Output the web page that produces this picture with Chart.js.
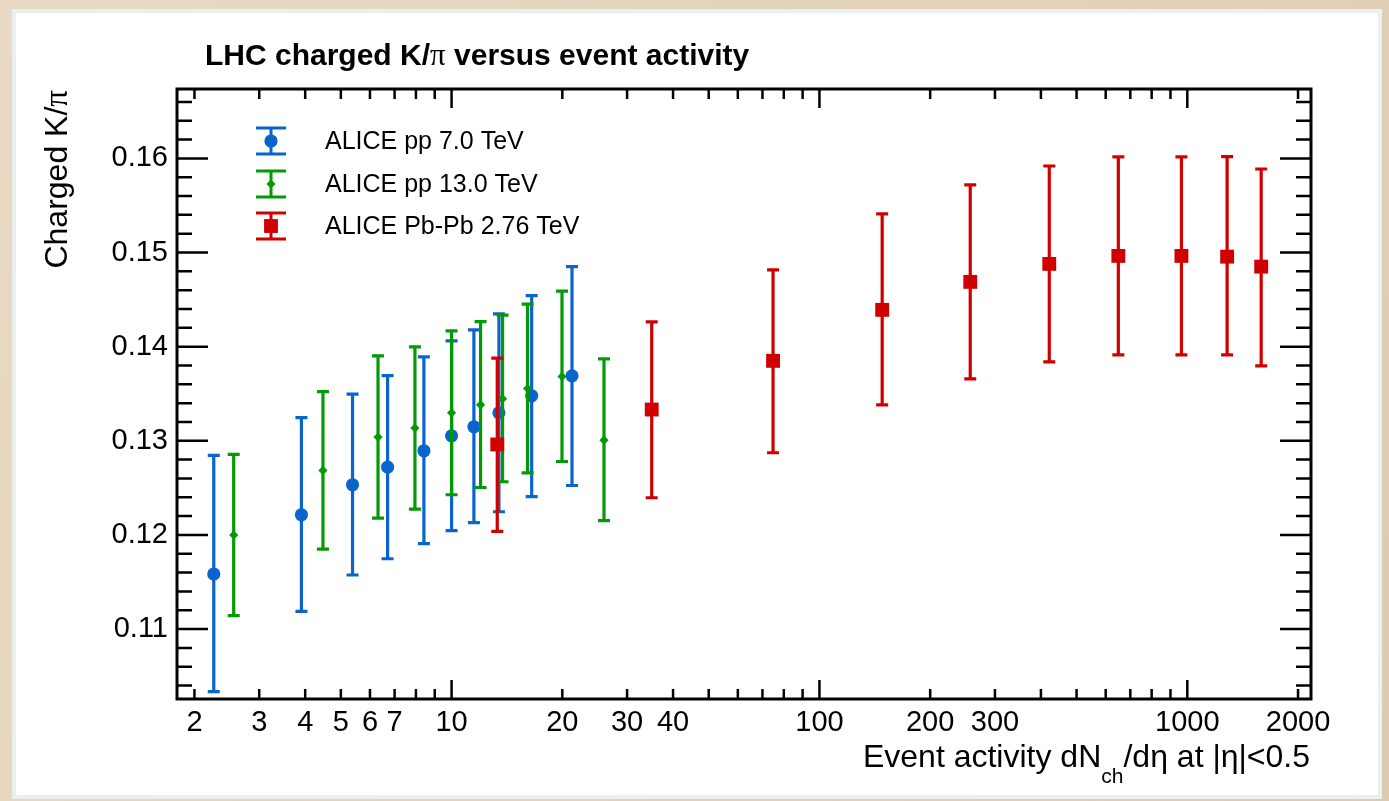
<!DOCTYPE html>
<html>
<head>
<meta charset="utf-8">
<script src="https://cdn.jsdelivr.net/npm/chart.js@4.4.1/dist/chart.umd.min.js"></script>
<style>
html,body{margin:0;padding:0;background:#e6d5bd;overflow:hidden;}
#wrap{position:absolute;left:0;top:0;width:1389px;height:801px;}
</style>
</head>
<body>
<div id="wrap"><canvas id="c" width="1389" height="801"></canvas></div>
<script>
// ---------------- data ----------------
const chartTitle = 'LHC charged K/';
const yTitle = 'Charged K/';
const seriesNames = ['ALICE pp 7.0 TeV', 'ALICE pp 13.0 TeV', 'ALICE Pb-Pb 2.76 TeV'];

const pp7X    = [2.257, 3.907, 5.38, 6.70, 8.41, 10.0, 11.50, 13.45, 16.51, 21.25];
const pp7Y    = [0.11585, 0.12214, 0.12533, 0.12721, 0.12894, 0.13053, 0.13149, 0.13297, 0.13478, 0.13690];
const pp7Hi   = [0.12844, 0.13247, 0.13496, 0.13693, 0.13892, 0.14062, 0.14178, 0.14348, 0.14542, 0.14850];
const pp7Lo   = [0.10335, 0.11188, 0.11574, 0.11747, 0.11907, 0.12045, 0.12130, 0.12246, 0.12406, 0.12525];

const pp13X   = [2.557, 4.47, 6.31, 7.95, 10.0, 11.99, 13.76, 16.09, 19.96, 25.96];
const pp13Y   = [0.11999, 0.12685, 0.13039, 0.13135, 0.13297, 0.13382, 0.13446, 0.13555, 0.13683, 0.13007];
const pp13Hi  = [0.12855, 0.13523, 0.13902, 0.13998, 0.14168, 0.14266, 0.14334, 0.14451, 0.14589, 0.13870];
const pp13Lo  = [0.11142, 0.11850, 0.12179, 0.12275, 0.12427, 0.12504, 0.12565, 0.12660, 0.12780, 0.12151];

const pbpbX   = [13.31, 35.0, 74.8, 148.1, 257, 421.5, 649.4, 963.9, 1283, 1588];
const pbpbY   = [0.12961, 0.13332, 0.13849, 0.14391, 0.14688, 0.14879, 0.14964, 0.14964, 0.14956, 0.14850];
const pbpbHi  = [0.13878, 0.14263, 0.14815, 0.15410, 0.15718, 0.15919, 0.16015, 0.16015, 0.16018, 0.15887];
const pbpbLo  = [0.12037, 0.12395, 0.12873, 0.13382, 0.13658, 0.13839, 0.13913, 0.13913, 0.13913, 0.13796];

const xTickValues = [2, 3, 4, 5, 6, 7, 10, 20, 30, 40, 100, 200, 300, 1000, 2000];
const xTickLabels = ['2', '3', '4', '5', '6', '7', '10', '20', '30', '40', '100', '200', '300', '1000', '2000'];
const yTickValues = [0.11, 0.12, 0.13, 0.14, 0.15, 0.16];
const yTickLabels = ['0.11', '0.12', '0.13', '0.14', '0.15', '0.16'];
const xMin = 1.793, xMax = 2169;
const yMin = 0.10257, yMax = 0.16737;

const colBlue = '#0a64cd', colGreen = '#049a04', colRed = '#d10000';
const SANS = '"Liberation Sans", Arial, Helvetica, sans-serif';
const SERIF = '"Liberation Serif", "DejaVu Serif", serif';

function pts(xs, ys) { return xs.map((x, i) => ({ x: x, y: ys[i] })); }

// ---------------- helpers ----------------
function richWidth(ctx, parts) {
  let w = 0;
  parts.forEach(p => { ctx.font = p.font; w += ctx.measureText(p.t).width; });
  return w;
}
function drawRich(ctx, parts, x, y) {
  let cx = x;
  parts.forEach(p => {
    ctx.font = p.font;
    ctx.fillText(p.t, cx, y + (p.dy || 0));
    cx += ctx.measureText(p.t).width;
  });
}

// ---------------- plugins ----------------
const background = {
  id: 'background',
  beforeDraw(chart) {
    const ctx = chart.ctx;
    ctx.save();
    const g = ctx.createLinearGradient(0, 0, chart.width, chart.height);
    g.addColorStop(0, '#e9dac5');
    g.addColorStop(0.5, '#e4d3ba');
    g.addColorStop(1, '#dccab0');
    ctx.fillStyle = g;
    ctx.fillRect(0, 0, chart.width, chart.height);
    ctx.fillStyle = '#ffffff';
    ctx.fillRect(12, 9, 1370, 790);
    ctx.strokeStyle = '#e9f0ef';
    ctx.lineWidth = 4;
    ctx.strokeRect(14, 11, 1366, 786);
    ctx.restore();
  }
};

const errorBars = {
  id: 'errorBars',
  beforeDatasetDraw(chart, args) {
    const ds = chart.data.datasets[args.index];
    if (!ds.errHi) return;
    const ys = chart.scales.y;
    const ctx = chart.ctx;
    ctx.save();
    ctx.strokeStyle = ds.borderColor;
    ctx.lineWidth = 3.2;
    ctx.lineCap = 'butt';
    args.meta.data.forEach((el, i) => {
      const x = el.x;
      const yh = ys.getPixelForValue(ds.errHi[i]);
      const yl = ys.getPixelForValue(ds.errLo[i]);
      ctx.beginPath();
      ctx.moveTo(x, yh); ctx.lineTo(x, yl);
      ctx.moveTo(x - 6, yh); ctx.lineTo(x + 6, yh);
      ctx.moveTo(x - 6, yl); ctx.lineTo(x + 6, yl);
      ctx.stroke();
    });
    ctx.restore();
  }
};

const decorations = {
  id: 'decorations',
  afterDraw(chart) {
    const ctx = chart.ctx;
    const a = chart.chartArea;
    const xs = chart.scales.x, ys = chart.scales.y;
    ctx.save();
    ctx.strokeStyle = '#000';
    // ticks (inside, ROOT style)
    ctx.lineWidth = 2.5;
    ctx.beginPath();
    yTickValues.forEach(v => {
      const py = ys.getPixelForValue(v);
      ctx.moveTo(a.left, py); ctx.lineTo(a.left + 31, py);
      ctx.moveTo(a.right, py); ctx.lineTo(a.right - 31, py);
    });
    for (let k = Math.ceil(yMin / 0.002); k <= Math.floor(yMax / 0.002); k++) {
      if (k % 5 === 0) continue;
      const py = ys.getPixelForValue(k * 0.002);
      ctx.moveTo(a.left, py); ctx.lineTo(a.left + 15, py);
      ctx.moveTo(a.right, py); ctx.lineTo(a.right - 15, py);
    }
    [1, 10, 100, 1000].forEach(d => {
      for (let m = 1; m <= 9; m++) {
        const v = m * d;
        if (v < xMin || v > xMax) continue;
        const px = xs.getPixelForValue(v);
        const len = (m === 1) ? 19 : 10;
        ctx.moveTo(px, a.bottom); ctx.lineTo(px, a.bottom - len);
        ctx.moveTo(px, a.top); ctx.lineTo(px, a.top + len);
      }
    });
    ctx.stroke();
    // frame
    ctx.lineWidth = 3;
    ctx.strokeRect(a.left, a.top, a.right - a.left, a.bottom - a.top);

    ctx.fillStyle = '#000';
    ctx.textBaseline = 'alphabetic';
    ctx.textAlign = 'left';
    // title
    drawRich(ctx, [
      { t: chartTitle, font: 'bold 30px ' + SANS },
      { t: 'π', font: '31px ' + SERIF },
      { t: ' versus event activity', font: 'bold 30px ' + SANS }
    ], 205, 65);

    // y title (rotated, aligned to top end)
    const yParts = [
      { t: yTitle, font: '32px ' + SANS },
      { t: 'π', font: '33px ' + SERIF }
    ];
    const yw = richWidth(ctx, yParts);
    ctx.save();
    ctx.translate(67, 90 + yw);
    ctx.rotate(-Math.PI / 2);
    drawRich(ctx, yParts, 0, 0);
    ctx.restore();

    // x title (right aligned at frame end)
    const xParts = [
      { t: 'Event activity dN', font: '32px ' + SANS },
      { t: 'ch', font: '21px ' + SANS, dy: 16 },
      { t: '/dη at |η|<0.5', font: '32px ' + SANS }
    ];
    const xw = richWidth(ctx, xParts);
    drawRich(ctx, xParts, 1310 - xw, 767);

    // legend
    const rows = [141, 184, 226];
    chart.data.datasets.forEach((ds, i) => {
      const cy = rows[i], cx = 271;
      ctx.strokeStyle = ds.borderColor;
      ctx.lineWidth = 3;
      ctx.beginPath();
      ctx.moveTo(cx, cy - 13); ctx.lineTo(cx, cy + 13);
      ctx.moveTo(cx - 15, cy - 13); ctx.lineTo(cx + 15, cy - 13);
      ctx.moveTo(cx - 15, cy + 13); ctx.lineTo(cx + 15, cy + 13);
      ctx.stroke();
      ctx.fillStyle = ds.backgroundColor;
      Chart.helpers.drawPoint(ctx, {
        pointStyle: ds.pointStyle, radius: ds.pointRadius, rotation: 0, borderWidth: 0
      }, cx, cy);
      ctx.fillStyle = '#000';
      ctx.font = '25px ' + SANS;
      ctx.textBaseline = 'middle';
      ctx.fillText(ds.label, 325, cy + 1);
    });
    ctx.restore();
  }
};

// ---------------- chart ----------------
Chart.defaults.font.family = SANS;
Chart.defaults.color = '#000';

new Chart(document.getElementById('c'), {
  type: 'scatter',
  data: {
    datasets: [
      {
        label: seriesNames[0], data: pts(pp7X, pp7Y), errHi: pp7Hi, errLo: pp7Lo,
        pointStyle: 'circle', pointRadius: 6.6, borderWidth: 0,
        backgroundColor: colBlue, borderColor: colBlue, order: 3
      },
      {
        label: seriesNames[1], data: pts(pp13X, pp13Y), errHi: pp13Hi, errLo: pp13Lo,
        pointStyle: 'rectRot', pointRadius: 4.6, borderWidth: 0,
        backgroundColor: colGreen, borderColor: colGreen, order: 2
      },
      {
        label: seriesNames[2], data: pts(pbpbX, pbpbY), errHi: pbpbHi, errLo: pbpbLo,
        pointStyle: 'rect', pointRadius: 9.8, borderWidth: 0,
        backgroundColor: colRed, borderColor: colRed, order: 1
      }
    ]
  },
  options: {
    responsive: false,
    animation: false,
    events: [],
    devicePixelRatio: 1,
    layout: { padding: { top: 89, right: 78, bottom: 0, left: 0 } },
    plugins: { legend: { display: false }, title: { display: false }, tooltip: { enabled: false } },
    scales: {
      x: {
        type: 'logarithmic', min: xMin, max: xMax,
        afterFit(s) { s.height = 102; },
        afterBuildTicks(s) { s.ticks = xTickValues.map(v => ({ value: v })); },
        grid: { display: false, drawTicks: false },
        border: { display: false },
        ticks: {
          autoSkip: false, maxRotation: 0, minRotation: 0, padding: 7,
          font: { size: 29 }, color: '#000',
          callback: (v, i) => xTickLabels[i]
        }
      },
      y: {
        type: 'linear', min: yMin, max: yMax,
        afterFit(s) { s.width = 177; },
        afterBuildTicks(s) { s.ticks = yTickValues.map(v => ({ value: v })); },
        grid: { display: false, drawTicks: false },
        border: { display: false },
        ticks: {
          padding: 9, font: { size: 29 }, color: '#000',
          callback: (v, i) => yTickLabels[i]
        }
      }
    }
  },
  plugins: [background, errorBars, decorations]
});
</script>
</body>
</html>
